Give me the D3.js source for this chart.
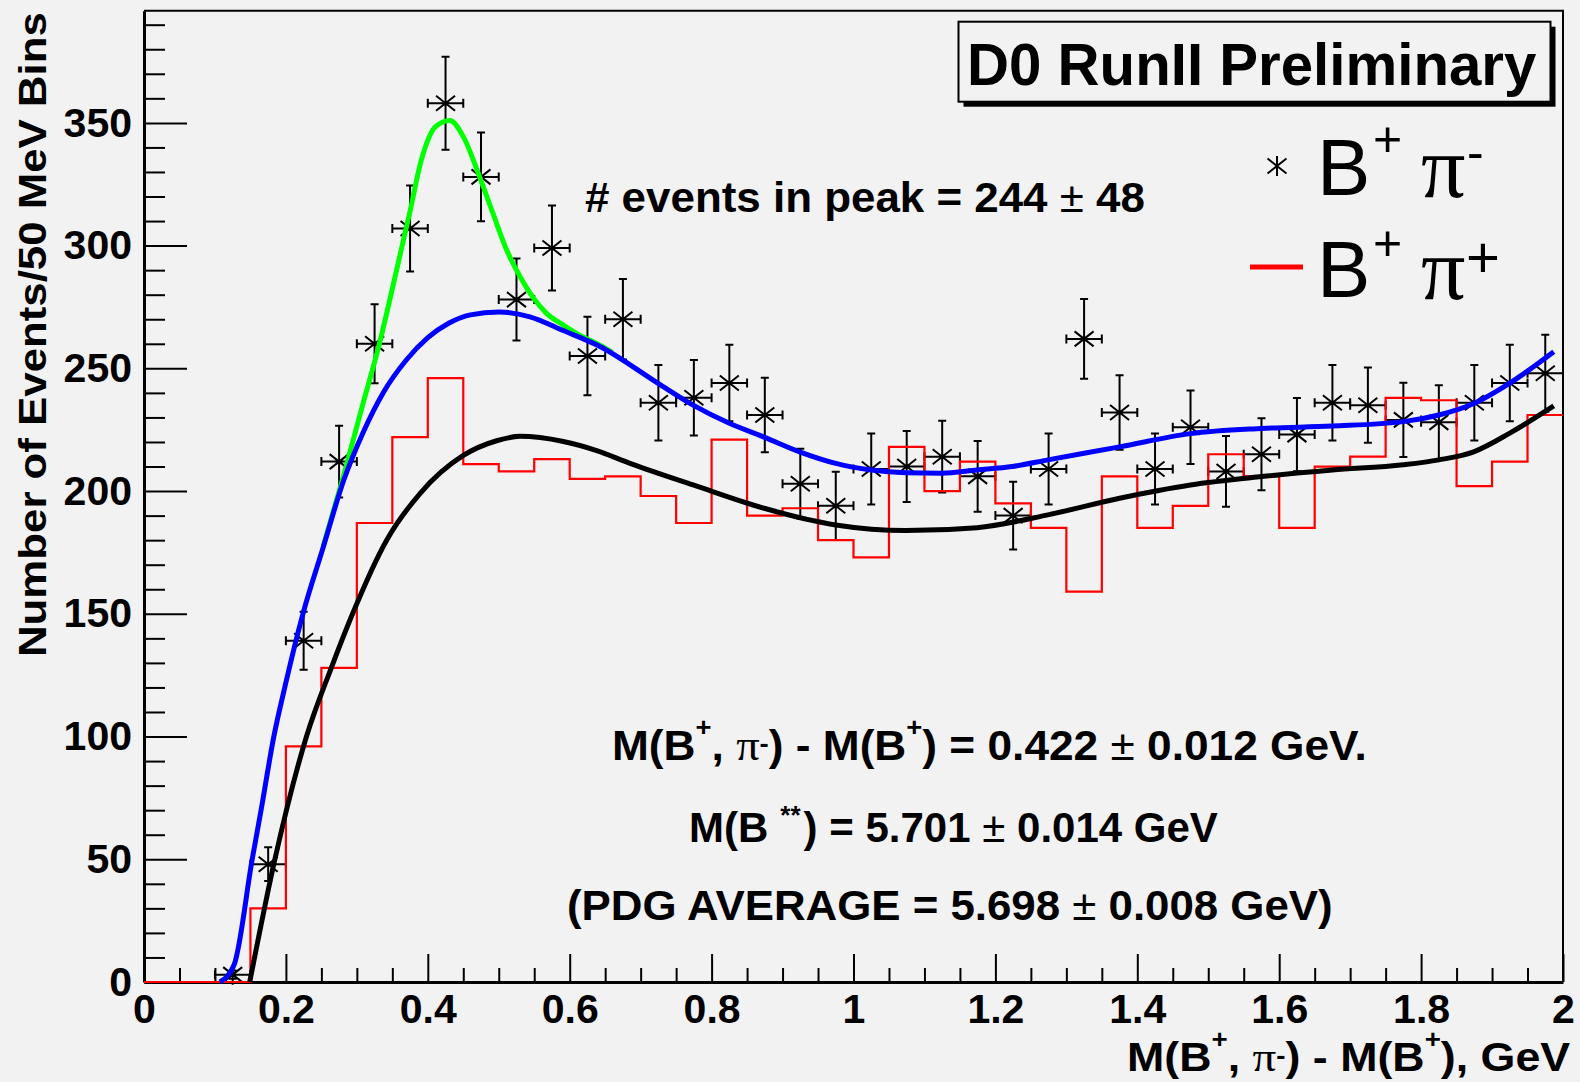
<!DOCTYPE html>
<html>
<head>
<meta charset="utf-8">
<script src="https://cdn.jsdelivr.net/npm/d3@7"></script>
<style>
  html, body { margin: 0; padding: 0; background: #f2f2f2; }
  svg { display: block; }
</style>
</head>
<body>
<svg id="chart" width="1580" height="1082"></svg>
<script>
// ---------------- DATA ----------------
// B+ pi- (data points, 50 MeV bins, bin centres in GeV)
const bpiMinusCentres = [0.125,0.175,0.225,0.275,0.325,0.375,0.425,0.475,0.525,0.575,
  0.625,0.675,0.725,0.775,0.825,0.875,0.925,0.975,1.025,1.075,
  1.125,1.175,1.225,1.275,1.325,1.375,1.425,1.475,1.525,1.575,
  1.625,1.675,1.725,1.775,1.825,1.875,1.925,1.975];
const bpiMinusCounts = [3,48,139,212,260,307,358,328,278,299,
  255,270,236,238,244,231,203,194,209,210,
  214,206,190,209,262,232,209,226,208,215,
  223,236,235,229,228,236,244,248];
const bpiMinusErrors = [1.7,6.9,11.8,14.6,16.1,17.5,18.9,18.1,16.7,17.3,
  16.0,16.4,15.4,15.4,15.6,15.2,14.2,13.9,14.5,14.5,
  14.6,14.4,13.8,14.5,16.2,15.2,14.5,15.0,14.4,14.7,
  14.9,15.4,15.3,15.1,15.1,15.4,15.6,15.7];
const binWidth = 0.05;

// B+ pi+ (red histogram), low bin edges
const bpiPlusLowEdges = [0,0.05,0.1,0.15,0.2,0.25,0.3,0.35,0.4,0.45,
  0.5,0.55,0.6,0.65,0.7,0.75,0.8,0.85,0.9,0.95,
  1.0,1.05,1.1,1.15,1.2,1.25,1.3,1.35,1.4,1.45,
  1.5,1.55,1.6,1.65,1.7,1.75,1.8,1.85,1.9,1.95];
const bpiPlusCounts = [0,0,0,30,96,128,187,222,246,211,
  208,213,205,206,198,187,221,190,193,180,
  173,218,200,212,195,185,159,206,185,194,
  215,206,185,210,214,238,237,202,212,231];

// Fit curves: [x (GeV), events]
const fitTotal = [[0.107,0],[0.127,7],[0.1525,50],[0.165,70],[0.183,100],[0.2,122],[0.224,150],
  [0.2525,177],[0.281,204],[0.309,224],[0.337,240],[0.370,253.5],[0.40,262.5],[0.43,268.5],
  [0.46,271.8],[0.50,273],[0.544,271],[0.590,265.5],[0.642,259],[0.724,244],[0.774,235],
  [0.825,227.6],[0.874,222],[0.924,216],[0.975,211.3],[1.025,208.6],[1.074,207.5],
  [1.124,207.3],[1.174,208.6],[1.224,210],[1.274,212.7],[1.375,218],[1.475,223.4],
  [1.575,225.5],[1.675,226.5],[1.775,228.3],[1.825,231],[1.875,235.8],[1.925,244],[1.987,256.8]];
const fitPeak = [[0.2525,177.4],[0.281,206],[0.309,236],[0.33,258],[0.356,290],[0.375,314],
  [0.391,335],[0.411,348.5],[0.431,351],[0.450,344.4],[0.473,328],[0.492,313],[0.511,298.3],
  [0.530,287.4],[0.548,279],[0.567,272.5],[0.590,267.8],[0.614,263.5],[0.64,259.8],[0.66,256.5]];
const fitBackground = [[0.149,0],[0.1845,50],[0.229,100],[0.264,128],[0.2925,149],[0.342,180],
  [0.389,199],[0.45,214.5],[0.497,220.5],[0.530,222.3],[0.591,220.2],[0.638,216.5],
  [0.685,211.3],[0.774,202.5],[0.874,193],[0.975,186.2],[1.074,183.9],[1.174,185.1],
  [1.274,190.3],[1.375,197.1],[1.475,202.5],[1.575,205.9],[1.675,208.6],[1.775,210.7],
  [1.825,212.7],[1.875,216.1],[1.925,223.6],[1.987,234.7]];

// Axes
const xDomain = [0, 2];
const yDomain = [0, 395.7];
const xMajorTicks = [0,0.2,0.4,0.6,0.8,1,1.2,1.4,1.6,1.8,2];
const xTickLabels = ["0","0.2","0.4","0.6","0.8","1","1.2","1.4","1.6","1.8","2"];
const xMinorTicks = d3.range(0, 41).map(i => i*0.05).filter(v => Math.abs(v/0.2 - Math.round(v/0.2)) > 1e-6);
const yMajorTicks = [0,50,100,150,200,250,300,350];
const yTickLabels = ["0","50","100","150","200","250","300","350"];
const yMinorTicks = d3.range(1, 40).map(i => i*10).filter(v => v % 50 !== 0);

// Texts
const yAxisTitle = "Number of Events/50 MeV Bins";
const titleText = "D0 RunII Preliminary";
const peakText = [{t:"# events in peak = 244 "},{t:"\u00B1", normal:true},{t:" 48"}];
const xAxisTitle = [{t:"M(B"},{t:"+",sup:"hi"},{t:", "},{t:"\u03C0",greek:true},{t:"-",sup:"lo"},
  {t:") - M(B"},{t:"+",sup:"hi"},{t:"), GeV"}];
const resultLine1 = [{t:"M(B"},{t:"+",sup:"hi"},{t:", "},{t:"\u03C0",greek:true},{t:"-",sup:"lo"},
  {t:") - M(B"},{t:"+",sup:"hi"},{t:") = 0.422 "},{t:"\u00B1",normal:true},{t:" 0.012 GeV."}];
const resultLine2 = [{t:"M(B"},{t:"**",sup:"star",dx:12},{t:") = 5.701 ",dx:3},{t:"\u00B1",normal:true},{t:" 0.014 GeV"}];
const resultLine3 = [{t:"(PDG AVERAGE = 5.698 "},{t:"\u00B1",normal:true},{t:" 0.008 GeV)"}];

// ---------------- DRAWING ----------------
const svg = d3.select("#chart");
const SANS = "'Liberation Sans', Arial, Helvetica, sans-serif";
const SERIF = "'Liberation Serif', 'Times New Roman', serif";

svg.append("rect").attr("width",1580).attr("height",1082).attr("fill","#f2f2f2");

const frame = {left:144, top:10.7, right:1563, bottom:982};
const x = d3.scaleLinear().domain(xDomain).range([frame.left, frame.right]);
const y = d3.scaleLinear().domain(yDomain).range([frame.bottom, frame.top]);

// rich text helper: builds text with tspans, then fits to a target width
function richText(parent, segs, opts) {
  const size = opts.size;
  const t = parent.append("text")
    .attr("x", 0).attr("y", 0)
    .attr("font-family", SANS)
    .attr("font-weight", opts.weight || "bold")
    .attr("font-size", size)
    .attr("fill", "#000");
  let cur = 0;
  segs.forEach(s => {
    const ts = t.append("tspan").text(s.t);
    let target = 0;
    if (s.sup === "hi") { target = -0.57*size; ts.attr("font-size", size*0.62); }
    else if (s.sup === "lo") { target = -0.18*size; ts.attr("font-size", size*0.62); }
    else if (s.sup === "star") { target = -0.42*size; ts.attr("font-size", size*0.62); }
    ts.attr("dy", target - cur);
    cur = target;
    if (s.dx) ts.attr("dx", s.dx);
    if (s.greek) ts.attr("font-family", SERIF).attr("font-weight", "normal").attr("font-size", size*1.05);
    if (s.normal) ts.attr("font-weight", "normal");
  });
  const bb = t.node().getBBox();
  const k = opts.width / bb.width;
  t.attr("transform", `translate(${opts.left},${opts.baseline}) scale(${k},1) translate(${-bb.x},0)`);
  return t;
}

// ---- Axes ----
const axisX = svg.append("g").attr("transform", `translate(0,${frame.bottom})`);
axisX.call(d3.axisBottom(x).tickValues(xMinorTicks).tickFormat("").tickSizeInner(-14).tickSizeOuter(0));
axisX.call(g => g.select(".domain").remove());
const axisXMajor = svg.append("g").attr("transform", `translate(0,${frame.bottom})`)
  .call(d3.axisBottom(x).tickValues(xMajorTicks).tickFormat((d,i) => xTickLabels[i])
    .tickSizeInner(-28).tickSizeOuter(0).tickPadding(12));

const axisY = svg.append("g").attr("transform", `translate(${frame.left},0)`);
axisY.call(d3.axisLeft(y).tickValues(yMinorTicks).tickFormat("").tickSizeInner(-21).tickSizeOuter(0));
axisY.call(g => g.select(".domain").remove());
const axisYMajor = svg.append("g").attr("transform", `translate(${frame.left},0)`)
  .call(d3.axisLeft(y).tickValues(yMajorTicks).tickFormat((d,i) => yTickLabels[i])
    .tickSizeInner(-43).tickSizeOuter(0).tickPadding(12));

svg.selectAll(".tick line").attr("stroke", "#000").attr("stroke-width", 2);
svg.selectAll(".domain").attr("stroke", "#000").attr("stroke-width", 3);
svg.selectAll(".tick text").attr("font-family", SANS).attr("font-weight", "bold")
  .attr("font-size", 41).attr("fill", "#000");

// frame top and right
svg.append("path")
  .attr("d", `M${frame.left},${frame.top}H${frame.right}V${frame.bottom}`)
  .attr("fill", "none").attr("stroke", "#000").attr("stroke-width", 2);

// ---- Data points (B+ pi-) ----
const pts = svg.append("g").attr("stroke", "#000").attr("stroke-width", 2).attr("fill", "none");
function starPath(cx, cy, r, withH) {
  let p = `M${cx},${cy - r}V${cy + r}` +
    `M${cx - 0.95*r},${cy - 0.75*r}L${cx + 0.95*r},${cy + 0.75*r}` +
    `M${cx - 0.95*r},${cy + 0.75*r}L${cx + 0.95*r},${cy - 0.75*r}`;
  if (withH) p += `M${cx - r},${cy}H${cx + r}`;
  return p;
}
bpiMinusCentres.forEach((c, i) => {
  const cx = x(c), cy = y(bpiMinusCounts[i]);
  const xl = x(c - binWidth/2), xr = x(c + binWidth/2);
  const yt = y(bpiMinusCounts[i] + bpiMinusErrors[i]);
  const yb = y(bpiMinusCounts[i] - bpiMinusErrors[i]);
  const cap = 4.5;
  const d = `M${xl},${cy}H${xr}M${xl},${cy - cap}V${cy + cap}M${xr},${cy - cap}V${cy + cap}` +
    `M${cx},${yt}V${yb}M${cx - 4},${yt}H${cx + 4}M${cx - 4},${yb}H${cx + 4}` +
    starPath(cx, cy, 10, true);
  pts.append("path").attr("d", d);
});

// ---- B+ pi+ histogram ----
const histPts = bpiPlusLowEdges.map((e, i) => [e, bpiPlusCounts[i]]);
histPts.push([xDomain[1], bpiPlusCounts[bpiPlusCounts.length - 1]]);
svg.append("path")
  .attr("d", d3.line().x(d => x(d[0])).y(d => y(d[1])).curve(d3.curveStepAfter)(histPts))
  .attr("fill", "none").attr("stroke", "#ff0000").attr("stroke-width", 2.2);

// ---- Fit curves ----
const fitLine = d3.line().x(d => x(d[0])).y(d => y(d[1])).curve(d3.curveMonotoneX);
svg.append("path").attr("d", fitLine(fitBackground))
  .attr("fill", "none").attr("stroke", "#000").attr("stroke-width", 5).attr("stroke-linejoin", "round");
svg.append("path").attr("d", fitLine(fitPeak))
  .attr("fill", "none").attr("stroke", "#00ff00").attr("stroke-width", 5).attr("stroke-linejoin", "round");
svg.append("path").attr("d", fitLine(fitTotal))
  .attr("fill", "none").attr("stroke", "#0000ff").attr("stroke-width", 5).attr("stroke-linejoin", "round");

// ---- Title box ----
svg.append("rect").attr("x", 963.5).attr("y", 26.7).attr("width", 592).attr("height", 80).attr("fill", "#000");
svg.append("rect").attr("x", 958.5).attr("y", 21.7).attr("width", 592).attr("height", 80)
  .attr("fill", "#f2f2f2").attr("stroke", "#000").attr("stroke-width", 2);
richText(svg, [{t: titleText}], {size: 60, left: 967, width: 570, baseline: 85});

// ---- Legend ----
svg.append("path").attr("d", starPath(1277, 166, 10, false))
  .attr("stroke", "#000").attr("stroke-width", 2).attr("fill", "none");
const leg1 = svg.append("text").attr("font-family", SANS).attr("fill", "#000");
leg1.append("tspan").attr("x", 1317).attr("y", 195).attr("font-size", 80).text("B");
leg1.append("tspan").attr("x", 1373).attr("y", 156).attr("font-size", 50).text("+");
leg1.append("tspan").attr("x", 1421).attr("y", 197).attr("font-size", 88).attr("font-family", SERIF).text("\u03C0");
leg1.append("tspan").attr("x", 1467).attr("y", 169).attr("font-size", 50).text("-");

svg.append("line").attr("x1", 1250).attr("x2", 1303).attr("y1", 267).attr("y2", 267)
  .attr("stroke", "#ff0000").attr("stroke-width", 5);
const leg2 = svg.append("text").attr("font-family", SANS).attr("fill", "#000");
leg2.append("tspan").attr("x", 1317).attr("y", 297).attr("font-size", 80).text("B");
leg2.append("tspan").attr("x", 1373).attr("y", 260).attr("font-size", 50).text("+");
leg2.append("tspan").attr("x", 1421).attr("y", 299).attr("font-size", 88).attr("font-family", SERIF).text("\u03C0");
leg2.append("tspan").attr("x", 1466).attr("y", 277).attr("font-size", 58).text("+");

// ---- Annotations ----
richText(svg, peakText, {size: 43, left: 585, width: 560, baseline: 211.5});
richText(svg, resultLine1, {size: 42, left: 612, width: 755, baseline: 760});
richText(svg, resultLine2, {size: 42, left: 689, width: 529, baseline: 842});
richText(svg, resultLine3, {size: 42, left: 567, width: 766, baseline: 920});

// ---- Axis titles ----
richText(svg, xAxisTitle, {size: 41, left: 1127, width: 444, baseline: 1071});
const yTitleG = svg.append("g").attr("transform", "translate(46,657) rotate(-90)");
richText(yTitleG, [{t: yAxisTitle}], {size: 39, left: 0, width: 645, baseline: 0});
</script>
</body>
</html>
